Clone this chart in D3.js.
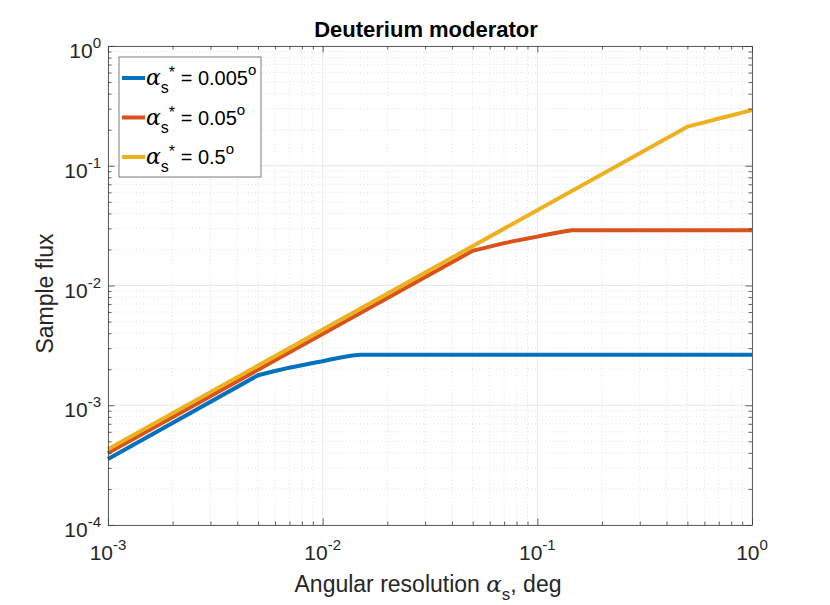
<!DOCTYPE html>
<html>
<head>
<meta charset="utf-8">
<script src="https://cdn.jsdelivr.net/npm/d3@7"></script>
<style>
  body { margin: 0; background: #fff; }
  text { font-family: "Liberation Sans", Arial, Helvetica, sans-serif; fill: #262626; }
</style>
</head>
<body>
<div id="chart"></div>
<script>
// values
var seriesNames = ["0.005", "0.05", "0.5"];
var seriesColors = ["#0072BD", "#D95319", "#EDB120"];

var blueX = [0.001, 0.005, 0.0055, 0.006, 0.007, 0.008, 0.009, 0.01, 0.011, 0.0125, 0.0135, 0.0145, 0.015, 1];
var blueY = [3.56e-4, 1.78e-3, 1.86e-3, 1.93e-3, 2.06e-3, 2.16e-3, 2.25e-3, 2.33e-3, 2.42e-3, 2.53e-3, 2.59e-3, 2.63e-3, 2.64e-3, 2.64e-3];

var orangeX = [0.001, 0.05, 0.055, 0.06, 0.07, 0.08, 0.09, 0.1, 0.11, 0.125, 0.135, 0.145, 0.15, 1];
var orangeY = [4.0e-4, 0.0195, 0.0203, 0.0211, 0.0226, 0.0237, 0.0247, 0.0256, 0.0265, 0.0277, 0.0284, 0.0289, 0.029, 0.029];

var yellowX = [0.001, 0.5, 0.6, 0.7, 0.8, 0.9, 1];
var yellowY = [4.3e-4, 0.212, 0.23, 0.248, 0.263, 0.278, 0.292];

var xTicks = [1e-3, 1e-2, 1e-1, 1];
var yTicks = [1e-4, 1e-3, 1e-2, 1e-1, 1];
var xTickExp = ["-3", "-2", "-1", "0"];
var yTickExp = ["-4", "-3", "-2", "-1", "0"];

var W = 830, H = 605;
var margin = {left: 108, right: 78, top: 46, bottom: 80};
var width = W - margin.left - margin.right;
var height = H - margin.top - margin.bottom;

var svg = d3.select("#chart").append("svg")
    .attr("width", W)
    .attr("height", H);

var g = svg.append("g")
    .attr("transform", "translate(" + margin.left + "," + margin.top + ")");

var x = d3.scaleLog().domain([1e-3, 1]).range([0, width]);
var y = d3.scaleLog().domain([1e-4, 1]).range([height, 0]);

// minor tick positions (2..9 within every decade)
function minors(lo, hi) {
  var out = [];
  for (var e = lo; e < hi; e++) {
    for (var m = 2; m <= 9; m++) out.push(m * Math.pow(10, e));
  }
  return out;
}
var xMinor = minors(-3, 0);
var yMinor = minors(-4, 0);

// grid
var grid = g.append("g").attr("class", "grid");
grid.selectAll(".xminor").data(xMinor).enter().append("line")
    .attr("x1", function(d){ return x(d); }).attr("x2", function(d){ return x(d); })
    .attr("y1", 0).attr("y2", height)
    .attr("stroke", "#d6d6d6").attr("stroke-width", 0.7).attr("stroke-dasharray", "1,2.5");
grid.selectAll(".yminor").data(yMinor).enter().append("line")
    .attr("y1", function(d){ return y(d); }).attr("y2", function(d){ return y(d); })
    .attr("x1", 0).attr("x2", width)
    .attr("stroke", "#d6d6d6").attr("stroke-width", 0.7).attr("stroke-dasharray", "1,2.5");
grid.selectAll(".xmajor").data(xTicks).enter().append("line")
    .attr("x1", function(d){ return x(d); }).attr("x2", function(d){ return x(d); })
    .attr("y1", 0).attr("y2", height)
    .attr("stroke", "#e3e3e3").attr("stroke-width", 0.8);
grid.selectAll(".ymajor").data(yTicks).enter().append("line")
    .attr("y1", function(d){ return y(d); }).attr("y2", function(d){ return y(d); })
    .attr("x1", 0).attr("x2", width)
    .attr("stroke", "#e3e3e3").attr("stroke-width", 0.8);

// lines
var series = [
  {x: blueX, y: blueY},
  {x: orangeX, y: orangeY},
  {x: yellowX, y: yellowY}
];

var line = d3.line()
    .x(function(d){ return x(d[0]); })
    .y(function(d){ return y(d[1]); });

series.forEach(function(s, i){
  var pts = s.x.map(function(v, j){ return [v, s.y[j]]; });
  g.append("path")
    .datum(pts)
    .attr("fill", "none")
    .attr("stroke", seriesColors[i])
    .attr("stroke-width", 4)
    .attr("stroke-linejoin", "round")
    .attr("d", line);
});

// axes: ticks point inward, on all four sides
function styleAxis(sel) {
  sel.select(".domain").attr("stroke", "#3a3a3a").attr("stroke-width", 0.8);
  sel.selectAll(".tick line").attr("stroke", "#3a3a3a").attr("stroke-width", 0.8);
}

var xAll = xTicks.concat(xMinor);
var yAll = yTicks.concat(yMinor);

function tickLen(d) {
  var l = Math.log10(d);
  return Math.abs(l - Math.round(l)) < 1e-9 ? 6.5 : 3.5;
}

[["bottom", height], ["top", 0]].forEach(function(p){
  var ax = (p[0] == "bottom" ? d3.axisBottom(x) : d3.axisTop(x))
      .tickValues(xAll).tickSizeOuter(0).tickFormat("");
  var a = g.append("g")
      .attr("transform", "translate(0," + p[1] + ")")
      .call(ax)
      .call(styleAxis);
  a.selectAll(".tick line").attr("y2", function(d){ return (p[0] == "bottom" ? -1 : 1) * tickLen(d); });
});

[["left", 0], ["right", width]].forEach(function(p){
  var ax = (p[0] == "left" ? d3.axisLeft(y) : d3.axisRight(y))
      .tickValues(yAll).tickSizeOuter(0).tickFormat("");
  var a = g.append("g")
      .attr("transform", "translate(" + p[1] + ",0)")
      .call(ax)
      .call(styleAxis);
  a.selectAll(".tick line").attr("x2", function(d){ return (p[0] == "left" ? 1 : -1) * tickLen(d); });
});

// tick labels 10^n
xTicks.forEach(function(d, i){
  var t = g.append("text")
      .attr("x", x(d)).attr("y", height + 35)
      .attr("text-anchor", "middle")
      .style("font-size", "21px");
  t.append("tspan").text("10");
  t.append("tspan").attr("dy", -10).style("font-size", "15px").text(xTickExp[i]);
});

yTicks.forEach(function(d, i){
  var t = g.append("text")
      .attr("x", -7).attr("y", y(d) + 12)
      .attr("text-anchor", "end")
      .style("font-size", "21px");
  t.append("tspan").text("10");
  t.append("tspan").attr("dy", -10).style("font-size", "15px").text(yTickExp[i]);
});

// title
svg.append("text")
    .attr("x", margin.left + width / 2 - 4).attr("y", 37)
    .attr("text-anchor", "middle")
    .style("font-size", "22px").style("font-weight", "bold")
    .style("fill", "#000")
    .text("Deuterium moderator");

// x label
var xl = svg.append("text")
    .attr("x", margin.left + width / 2 - 2).attr("y", 592)
    .attr("text-anchor", "middle")
    .style("font-size", "23px");
xl.append("tspan").text("Angular resolution ");
xl.append("tspan").style("font-family", "'DejaVu Serif', serif").style("font-style", "italic").text("α");
xl.append("tspan").attr("dy", 8).style("font-size", "17px").text("s");
xl.append("tspan").attr("dy", -8).text(", deg");

// y label
svg.append("text")
    .attr("transform", "translate(53," + (margin.top + height / 2 + 8) + ") rotate(-90)")
    .attr("text-anchor", "middle")
    .style("font-size", "23px")
    .text("Sample flux");

// legend
var lg = g.append("g").attr("transform", "translate(11,11)");
lg.append("rect")
    .attr("width", 142).attr("height", 120)
    .attr("fill", "#fff").attr("stroke", "#262626").attr("stroke-width", 0.6);

seriesNames.forEach(function(name, i){
  var cy = 21 + i * 39.5;
  lg.append("line")
    .attr("x1", 3).attr("x2", 26).attr("y1", cy).attr("y2", cy)
    .attr("stroke", seriesColors[i]).attr("stroke-width", 4);
  var t = lg.append("text")
    .attr("x", 27).attr("y", cy + 7)
    .style("font-size", "20px").style("fill", "#000");
  t.append("tspan").style("font-family", "'DejaVu Serif', serif").style("font-style", "italic").style("font-size", "22px").text("α");
  t.append("tspan").attr("dy", 8).style("font-size", "16px").text("s");
  t.append("tspan").attr("dy", -15).style("font-size", "16px").text("*");
  t.append("tspan").attr("dy", 7).text(" = " + name);
  t.append("tspan").attr("dy", -10).style("font-size", "15px").text("o");
});
</script>
</body>
</html>
